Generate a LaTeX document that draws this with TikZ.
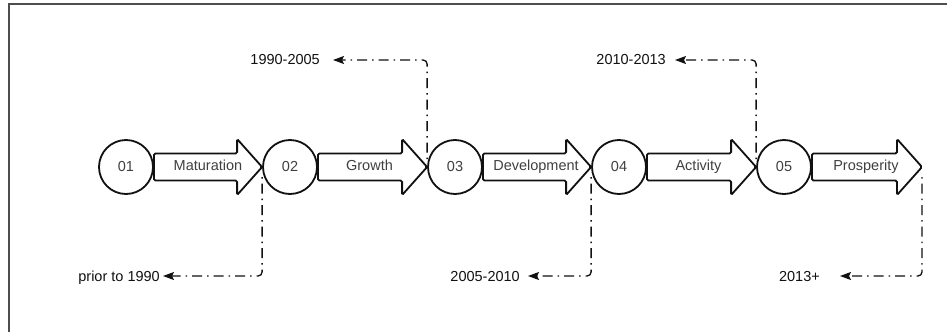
\documentclass[tikz,border=0pt]{standalone}
\usepackage{fontspec}
\setmainfont{Liberation Sans}
\usetikzlibrary{calc,arrows.meta}

\definecolor{ink}{HTML}{111111}
\definecolor{soft}{HTML}{404040}
\definecolor{edge}{HTML}{4D4D4D}

\newcommand\labelfont{\fontsize{14.5}{17}\selectfont}

\tikzset{
  stage/.style={circle, draw=ink, line width=1.8pt, minimum size=54pt,
    inner sep=0pt, fill=white, text=soft, font=\labelfont},
  flow/.style={draw=ink, line width=1.8pt, fill=white, rounded corners=1.5pt},
  flowtext/.style={text=soft, font=\labelfont, inner sep=0pt,
    text height=10.4pt, text depth=0pt},
  period/.style={text=ink, font=\labelfont, inner sep=0pt, anchor=east,
    text height=10.4pt, text depth=0pt},
  link/.style={draw=ink, line width=1.3pt, rounded corners=4pt,
    dash pattern=on 1.5pt off 5pt on 10pt off 5pt,
    -{Stealth[length=11pt,width=8pt,inset=2pt]}},
}

% block arrow from the east side of node #1 to the point #2
\newcommand\flowarrow[2]{%
  \draw[flow] let \p1=(#1.east), \p2=(#2) in
    (\x1,\y1+13.5pt) -- (\x2-25pt,\y1+13.5pt) -- (\x2-25pt,\y1+28pt)
    -- (\x2,\y1) -- (\x2-25pt,\y1-28pt) -- (\x2-25pt,\y1-13.5pt)
    -- (\x1,\y1-13.5pt) -- cycle;}

\begin{document}
\begin{tikzpicture}[x=1pt, y=-1pt]
  \useasboundingbox (0,0) rectangle (947,332);
  \fill[white] (0,0) rectangle (947,332);

  % frame edges
  \draw[edge, line width=2pt] (8.5,332) -- (8.5,3.5) -- (947,3.5);

  % stages
  \node[stage] (s1) at (126,167) {01};
  \node[stage] (s2) at (290,167) {02};
  \node[stage] (s3) at (455,167) {03};
  \node[stage] (s4) at (619,167) {04};
  \node[stage] (s5) at (784,167) {05};
  \coordinate (tip5) at (922,167);

  % block arrows between stages
  \flowarrow{s1}{s2.west}
  \flowarrow{s2}{s3.west}
  \flowarrow{s3}{s4.west}
  \flowarrow{s4}{s5.west}
  \flowarrow{s5}{tip5}

  \node[flowtext] (a1) at ($(s1.east)!0.5!(s2.west)+(0,-2)$) {Maturation};
  \node[flowtext] (a2) at ($(s2.east)!0.5!(s3.west)+(-3,-2)$) {Growth};
  \node[flowtext] (a3) at ($(s3.east)!0.5!(s4.west)+(-1,-2)$) {Development};
  \node[flowtext] (a4) at ($(s4.east)!0.5!(s5.west)+(-3,-2)$) {Activity};
  \node[flowtext] (a5) at ($(s5.east)!0.5!(tip5)+(-1,-2)$) {Prosperity};

  % periods
  \node[period] (p1) at (160,276) {prior to 1990};
  \node[period] (p2) at (320,59) {1990-2005};
  \node[period] (p3) at (520,276) {2005-2010};
  \node[period] (p4) at (666,59) {2010-2013};
  \node[period] (p5) at (820,276) {2013+};

  \coordinate (e1) at (163,276);
  \coordinate (e2) at (333,60);
  \coordinate (e3) at (528,276);
  \coordinate (e4) at (675,60);
  \coordinate (e5) at (840,276);

  % period connectors
  \draw[link] ([yshift=-10pt]s2.west) |- (e1);
  \draw[link] ([yshift=8pt]s3.west) |- (e2);
  \draw[link] ([yshift=-10pt]s4.west) |- (e3);
  \draw[link] ([yshift=8pt]s5.west) |- (e4);
  \draw[link] ([yshift=-10pt]tip5) |- (e5);
\end{tikzpicture}
\end{document}
